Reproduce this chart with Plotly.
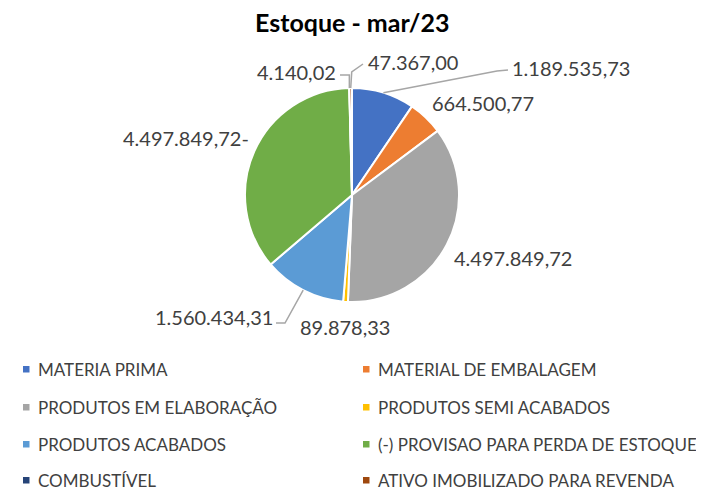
import math
import plotly.graph_objects as go

# ---------------- data ----------------
title_text = "Estoque - mar/23"
categories = [
    "MATERIA PRIMA",
    "MATERIAL DE EMBALAGEM",
    "PRODUTOS EM ELABORAÇÃO",
    "PRODUTOS SEMI ACABADOS",
    "PRODUTOS ACABADOS",
    "(-) PROVISAO PARA PERDA DE ESTOQUE",
    "COMBUSTÍVEL",
    "ATIVO IMOBILIZADO PARA REVENDA",
]
values = [1189535.73, 664500.77, 4497849.72, 89878.33, 1560434.31, -4497849.72, 4140.02, 47367.00]
colors = ["#4472C4", "#ED7D31", "#A5A5A5", "#FFC000", "#5B9BD5", "#70AD47", "#264478", "#9E480E"]


def br(v):
    s = f"{abs(v):,.2f}".replace(",", "X").replace(".", ",").replace("X", ".")
    return s + ("-" if v < 0 else "")


sizes = [abs(v) for v in values]
labels_txt = [br(v) for v in values]

# ---------------- layout ----------------
# the html page has an 8px body margin; figure is shrunk and positions offset by it
OFF = 8
W, H = 704 - OFF, 490 - OFF
CX, CY, R = 352, 195, 107
FONT = "Lato"
TXT = "#404040"


def px(x, y):
    return (x - OFF) / W, 1 - (y - OFF) / H


total = sum(sizes)
cum = 0
mids = []
for s in sizes:
    mids.append((cum + s / 2) / total * 2 * math.pi)
    cum += s


def edge(i, rr=R):
    a = mids[i]
    return CX + rr * math.sin(a), CY - rr * math.cos(a)


dx0, _ = px(CX - R, 0)
dx1, _ = px(CX + R, 0)
_, dy0 = px(0, CY + R)
_, dy1 = px(0, CY - R)

fig = go.Figure(
    go.Pie(
        values=sizes,
        labels=categories,
        sort=False,
        direction="clockwise",
        rotation=0,
        textinfo="none",
        hovertext=labels_txt,
        hoverinfo="label+text",
        marker=dict(colors=colors, line=dict(color="white", width=2)),
        showlegend=False,
        domain=dict(x=[dx0, dx1], y=[dy0, dy1]),
    )
)

# data label placement (px): x, y, anchor
label_pos = {
    0: (510, 68, "left"),
    1: (430, 103, "left"),
    2: (452, 258, "left"),
    3: (298, 327, "left"),
    4: (275, 317, "right"),
    5: (251, 138, "right"),
    6: (338, 72, "right"),
    7: (366, 62, "left"),
}

annotations = []
for i, (x, y, anc) in label_pos.items():
    xx, yy = px(x, y)
    annotations.append(dict(
        x=xx, y=yy, xref="paper", yref="paper", text=labels_txt[i], showarrow=False,
        xanchor=anc, yanchor="middle", font=dict(family=FONT, size=20, color=TXT),
    ))

shapes = []
LC = "#A6A6A6"


def path(points):
    pts = [px(*p) for p in points]
    d = "M " + " L ".join(f"{a:.5f},{b:.5f}" for a, b in pts)
    shapes.append(dict(type="path", path=d, xref="paper", yref="paper",
                       line=dict(color=LC, width=1.5)))


# leader lines
e0 = edge(0)
path([e0, (497, 71), (508, 70)])
e4 = edge(4)
path([e4, (285, 323), (276, 323)])
e6 = edge(6)
path([e6, (e6[0], 75), (340, 75)])
e7 = edge(7)
path([e7, (e7[0] + 1, 72), (363, 64)])

# legend
col_mark = [23, 363]
col_text = [36, 376]
row_y = [369, 407, 444, 480]
for i, cat in enumerate(categories):
    c, r = i % 2, i // 2
    mx, my = col_mark[c], row_y[r]
    x0, y0 = px(mx, my - 3)
    x1, y1 = px(mx + 6.5, my + 3.5)
    shapes.append(dict(type="rect", xref="paper", yref="paper", x0=x0, y0=y1, x1=x1, y1=y0,
                       fillcolor=colors[i], line=dict(width=0)))
    tx, ty = px(col_text[c], my)
    annotations.append(dict(
        x=tx, y=ty, xref="paper", yref="paper", text=cat, showarrow=False,
        xanchor="left", yanchor="middle", font=dict(family=FONT, size=17, color=TXT),
    ))

# title
tx, ty = px(352, 22)
annotations.append(dict(
    x=tx, y=ty, xref="paper", yref="paper", text=title_text, showarrow=False,
    xanchor="center", yanchor="middle",
    font=dict(family=FONT, size=25, color="#000000", weight="bold"),
))

fig.update_layout(
    width=W, height=H,
    margin=dict(l=0, r=0, t=0, b=0),
    paper_bgcolor="white", plot_bgcolor="white",
    annotations=annotations, shapes=shapes,
    showlegend=False,
)

fig.write_html("out.html")
